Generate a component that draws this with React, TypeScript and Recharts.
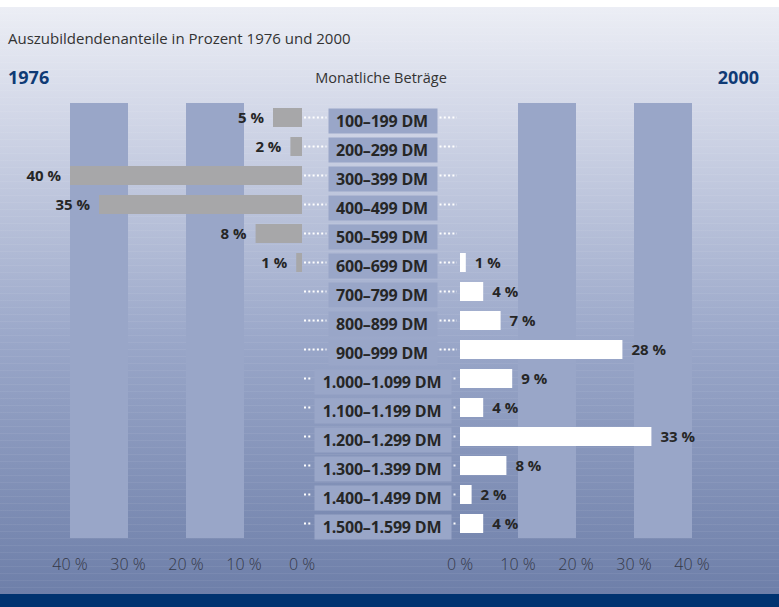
import React from 'react'
import { BarChart, Bar, XAxis, YAxis, ReferenceArea, LabelList } from 'recharts'

const RANGES = [
  '100–199 DM',
  '200–299 DM',
  '300–399 DM',
  '400–499 DM',
  '500–599 DM',
  '600–699 DM',
  '700–799 DM',
  '800–899 DM',
  '900–999 DM',
  '1.000–1.099 DM',
  '1.100–1.199 DM',
  '1.200–1.299 DM',
  '1.300–1.399 DM',
  '1.400–1.499 DM',
  '1.500–1.599 DM',
]
const SHARE_1976 = [5, 2, 40, 35, 8, 1, null, null, null, null, null, null, null, null, null]
const SHARE_2000 = [null, null, null, null, null, 1, 4, 7, 28, 9, 4, 33, 8, 2, 4]
const TICKS = [0, 10, 20, 30, 40]
const BANDS: [number, number][] = [
  [10, 20],
  [30, 40],
]

const FONT = '"Open Sans", "DejaVu Sans", sans-serif'
const COLUMN = '#99a6c8'
const TEXT = '#262626'

const W = 779
const H = 607
const TOP = 103
const BOTTOM = 39
// center gap between the two halves
const GAP_L = 302
const GAP_R = 460
const GAP_MID = 382

const rows = RANGES.map((range, i) => ({
  range,
  y1976: SHARE_1976[i],
  y2000: SHARE_2000[i],
}))

const pct = (v: number) => `${v} %`

function LeftLabel(props: any) {
  const { x, y, width, height, value } = props
  if (value == null) return null
  const left = Math.min(x, x + width)
  return (
    <text
      x={left - 9}
      y={y + height / 2}
      dy="0.36em"
      textAnchor="end"
      fontFamily={FONT}
      fontWeight={700}
      fontSize={15}
      fill={TEXT}
    >
      {pct(value)}
    </text>
  )
}

function RightLabel(props: any) {
  const { x, y, width, height, value } = props
  if (value == null) return null
  const right = Math.max(x, x + width)
  return (
    <text
      x={right + 9}
      y={y + height / 2}
      dy="0.36em"
      textAnchor="start"
      fontFamily={FONT}
      fontWeight={700}
      fontSize={15}
      fill={TEXT}
    >
      {pct(value)}
    </text>
  )
}

function CenterTick(props: any) {
  const { y, payload } = props
  const label: string = payload.value
  const w = label.length * 7 + 39
  const bx = GAP_MID + 1 - w / 2
  return (
    <g>
      <line
        x1={GAP_L + 2}
        x2={bx - 2}
        y1={y}
        y2={y}
        stroke="#fff"
        strokeWidth={2}
        strokeDasharray="2 2.3"
      />
      <line
        x1={bx + w + 2}
        x2={GAP_R - 3}
        y1={y}
        y2={y}
        stroke="#fff"
        strokeWidth={2}
        strokeDasharray="2 2.3"
      />
      <rect x={bx} y={y - 9} width={w} height={25} fill={COLUMN} />
      <text
        x={GAP_MID}
        y={y + 9}
        textAnchor="middle"
        fontFamily={FONT}
        fontWeight={700}
        fontSize={16}
        letterSpacing={-0.2}
        fill={TEXT}
      >
        {label}
      </text>
    </g>
  )
}

const tickStyle = { fontFamily: FONT, fontSize: 16, fontWeight: 300, fill: '#343848' }

export default function App() {
  return (
    <div
      style={{
        position: 'absolute',
        left: 0,
        top: 0,
        width: W,
        height: H,
        overflow: 'hidden',
        background: '#fff',
        fontFamily: FONT,
      }}
    >
      <div
        style={{
          position: 'absolute',
          left: 0,
          top: 7,
          width: W,
          height: 587,
          backgroundImage:
            'repeating-linear-gradient(to bottom, rgba(255,255,255,0) 0px, rgba(255,255,255,0) 6px, rgba(255,255,255,0.06) 6px, rgba(255,255,255,0.06) 7px), linear-gradient(to bottom, #eceef5 0px, #d3d8e8 103px, #9aa7c9 333px, #6e7fa9 587px)',
        }}
      />
      <div style={{ position: 'absolute', left: 0, top: 594, width: W, height: 13, background: '#003370' }} />

      <div style={{ position: 'absolute', left: 8, top: 31, fontSize: 15, lineHeight: 1, color: '#333' }}>
        Auszubildendenanteile in Prozent 1976 und 2000
      </div>
      <div style={{ position: 'absolute', left: 8, top: 68, fontSize: 18, fontWeight: 700, lineHeight: 1, color: '#0f3a75' }}>
        1976
      </div>
      <div style={{ position: 'absolute', left: 0, width: 2 * GAP_MID - 2, textAlign: 'center', top: 71, fontSize: 14.5, lineHeight: 1, color: '#333' }}>
        Monatliche Beträge
      </div>
      <div style={{ position: 'absolute', right: 20, top: 68, fontSize: 18, fontWeight: 700, lineHeight: 1, color: '#0f3a75' }}>
        2000
      </div>

      <BarChart
        width={W}
        height={H}
        data={rows}
        layout="vertical"
        margin={{ top: TOP, right: W - GAP_L, bottom: BOTTOM, left: 70 }}
        style={{ position: 'absolute', left: 0, top: 0 }}
      >
        <XAxis
          type="number"
          domain={[0, 40]}
          ticks={TICKS}
          reversed
          height={30}
          tickFormatter={pct}
          axisLine={false}
          tickLine={false}
          tickSize={0}
          tickMargin={21}
          tick={tickStyle}
        />
        <YAxis type="category" dataKey="range" hide />
        {BANDS.map(([a, b]) => (
          <ReferenceArea key={a} x1={a} x2={b} fill={COLUMN} fillOpacity={1} stroke="none" />
        ))}
        <Bar dataKey="y1976" fill="#a7a7a9" barSize={19} isAnimationActive={false}>
          <LabelList dataKey="y1976" content={LeftLabel} />
        </Bar>
      </BarChart>

      <BarChart
        width={W}
        height={H}
        data={rows}
        layout="vertical"
        margin={{ top: TOP, right: 87, bottom: BOTTOM, left: GAP_L }}
        style={{ position: 'absolute', left: 0, top: 0 }}
      >
        <XAxis
          type="number"
          domain={[0, 40]}
          ticks={TICKS}
          height={30}
          tickFormatter={pct}
          axisLine={false}
          tickLine={false}
          tickSize={0}
          tickMargin={21}
          tick={tickStyle}
        />
        <YAxis
          type="category"
          dataKey="range"
          width={GAP_R - GAP_L}
          axisLine={false}
          tickLine={false}
          interval={0}
          tick={<CenterTick />}
        />
        {BANDS.map(([a, b]) => (
          <ReferenceArea key={a} x1={a} x2={b} fill={COLUMN} fillOpacity={1} stroke="none" />
        ))}
        <Bar dataKey="y2000" fill="#ffffff" barSize={19} isAnimationActive={false}>
          <LabelList dataKey="y2000" content={RightLabel} />
        </Bar>
      </BarChart>
    </div>
  )
}
